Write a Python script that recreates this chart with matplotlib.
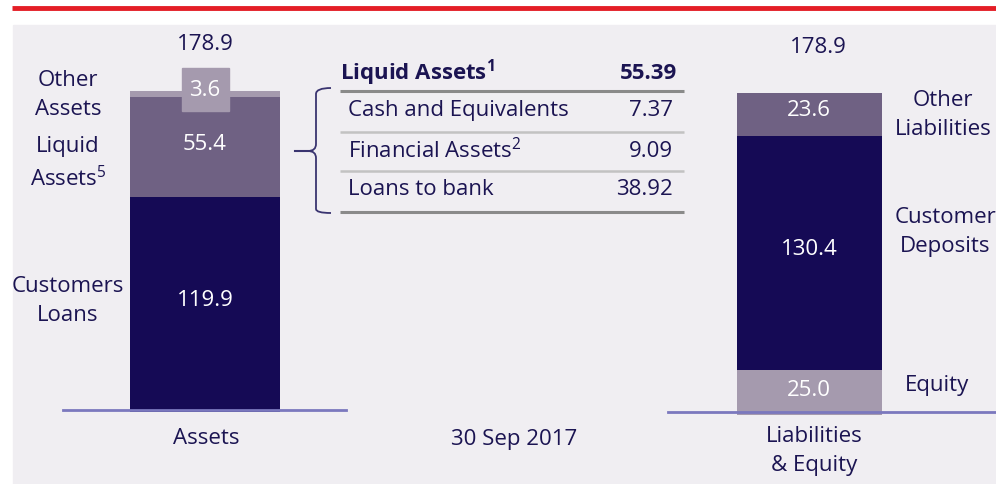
import matplotlib.pyplot as plt
from matplotlib.patches import Rectangle
from matplotlib.path import Path
from matplotlib.patches import PathPatch

# ------ Data ------
asset_names = ["Customers\nLoans", "Liquid\nAssets$^5$", "Other\nAssets"]
asset_values = [119.9, 55.4, 3.6]
liab_names = ["Equity", "Customer\nDeposits", "Other\nLiabilities"]
liab_values = [25.0, 130.4, 23.6]
total = 178.9

table_rows = ["Cash and Equivalents", "Financial Assets$^2$", "Loans to bank"]
table_values = [7.37, 9.09, 38.92]
liquid_total = 55.39

# ------ Style ------
NAVY = "#150A55"
MID = "#6F6183"
LIGHT = "#A59AAE"
TXT = "#1B1452"
BG = "#F0EEF2"
RED = "#E41E26"
plt.rcParams["font.family"] = ["Open Sans", "DejaVu Sans"]
plt.rcParams["mathtext.fontset"] = "custom"
plt.rcParams["mathtext.rm"] = "Open Sans"
plt.rcParams["mathtext.bf"] = "Open Sans:bold"

W, H = 996, 485
BASE = 413.0
SCALE = 1.795


def py(p):
    """pixel row (from top) -> value units"""
    return (BASE - p) / SCALE


fig = plt.figure(figsize=(W / 100, H / 100), dpi=100)
fig.patch.set_facecolor("white")
ax = fig.add_axes([0, 0, 1, 1])
ax.set_xlim(0, W)
ax.set_ylim(py(H), py(0))
ax.axis("off")

# background panel and red top rule
ax.add_patch(Rectangle((13, py(H)), W - 13, py(26) - py(H), color=BG, zorder=0))
ax.plot([12, W], [py(9), py(9)], color=RED, lw=3.5, solid_capstyle="butt", zorder=1)

# ------ Bars ------
seg_colors = [NAVY, MID, LIGHT]
bottom = 0
for v, c in zip(asset_values, seg_colors):
    ax.bar(205, v, width=150, bottom=bottom, color=c, zorder=2)
    bottom += v
bottom = -1.5
for v, c in zip(liab_values, [LIGHT, NAVY, MID]):
    ax.bar(809.5, v, width=145, bottom=bottom, color=c, zorder=2)
    bottom += v

# baselines
ax.plot([63, 346], [py(411), py(411)], color="#7B78BE", lw=2, zorder=3)
ax.plot([668, 996], [py(413), py(413)], color="#7B78BE", lw=2, zorder=3)

# value labels inside bars
fs = 16
ax.add_patch(Rectangle((182, py(112)), 47, py(69) - py(112), color=LIGHT, zorder=3))
ax.text(205, py(90), f"{asset_values[2]:.1f}", color="white", ha="center", va="center", fontsize=fs, zorder=4)
ax.text(205, py(144), f"{asset_values[1]:.1f}", color="white", ha="center", va="center", fontsize=fs, zorder=4)
ax.text(205, py(301), f"{asset_values[0]:.1f}", color="white", ha="center", va="center", fontsize=fs, zorder=4)
ax.text(809, py(110), f"{liab_values[2]:.1f}", color="white", ha="center", va="center", fontsize=fs, zorder=4)
ax.text(809, py(249), f"{liab_values[1]:.1f}", color="white", ha="center", va="center", fontsize=fs, zorder=4)
ax.text(809, py(390), f"{liab_values[0]:.1f}", color="white", ha="center", va="center", fontsize=fs, zorder=4)

# totals
ax.text(205, py(44), f"{total:.1f}", color=TXT, ha="center", va="center", fontsize=fs)
ax.text(818, py(47), f"{total:.1f}", color=TXT, ha="center", va="center", fontsize=fs)

# category labels
ls = 1.45
ax.text(68, py(95), asset_names[2], color=TXT, ha="center", va="center", fontsize=fs, linespacing=ls)
ax.text(68, py(164), asset_names[1], color=TXT, ha="center", va="center", fontsize=fs, linespacing=ls)
ax.text(68, py(301), asset_names[0], color=TXT, ha="center", va="center", fontsize=fs, linespacing=ls)
ax.text(943, py(115), liab_names[2], color=TXT, ha="center", va="center", fontsize=fs, linespacing=ls)
ax.text(945, py(232), liab_names[1], color=TXT, ha="center", va="center", fontsize=fs, linespacing=ls)
ax.text(937, py(386), liab_names[0], color=TXT, ha="center", va="center", fontsize=fs)

ax.text(206, py(438), "Assets", color=TXT, ha="center", va="center", fontsize=fs)
ax.text(514, py(440), "30 Sep 2017", color=TXT, ha="center", va="center", fontsize=fs)
ax.text(814, py(451), "Liabilities\n& Equity", color=TXT, ha="center", va="center", fontsize=fs, linespacing=ls)

# ------ Liquid assets table ------
ax.text(340, py(73), "Liquid Assets$^{\\mathbf{1}}$", color=TXT, ha="left", va="center",
        fontsize=fs, fontweight="bold")
ax.text(677, py(73), f"{liquid_total:.2f}", color=TXT, ha="right", va="center",
        fontsize=fs, fontweight="bold")
ax.plot([340, 684], [py(92), py(92)], color="#8A8A8A", lw=2.2, solid_capstyle="butt")
row_y = [110, 151, 189]
line_y = [133, 172, 213]
for i, (name, val) in enumerate(zip(table_rows, table_values)):
    ax.text(348, py(row_y[i]), name, color=TXT, ha="left", va="center", fontsize=fs)
    ax.text(673, py(row_y[i]), f"{val:.2f}", color=TXT, ha="right", va="center", fontsize=fs)
    last = i == len(table_rows) - 1
    ax.plot([340, 684], [py(line_y[i]), py(line_y[i])],
            color="#8A8A8A" if last else "#C2C2C2", lw=2.2 if last else 1.8,
            solid_capstyle="butt")

# brace
verts = [(331, py(89)), (316, py(89)), (316, py(95)),
         (316, py(145)), (316, py(152)), (308, py(152)),
         (316, py(152)), (316, py(159)),
         (316, py(210)), (316, py(214)), (331, py(214))]
codes = [Path.MOVETO, Path.CURVE3, Path.CURVE3,
         Path.LINETO, Path.CURVE3, Path.CURVE3,
         Path.CURVE3, Path.CURVE3,
         Path.LINETO, Path.CURVE3, Path.CURVE3]
ax.add_patch(PathPatch(Path(verts, codes), fill=False, edgecolor="#3A3470", lw=1.3))
ax.plot([295, 310], [py(152), py(152)], color="#3A3470", lw=1.5)

fig.savefig("out.png", dpi=100, facecolor=fig.get_facecolor())
